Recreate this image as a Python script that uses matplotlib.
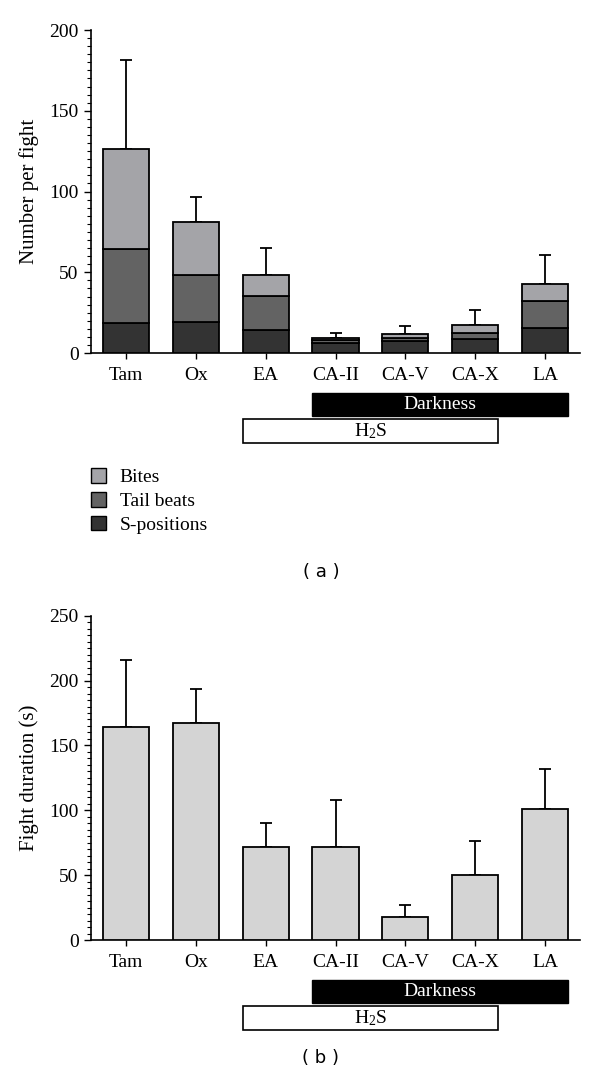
import matplotlib
matplotlib.use("Agg")
import matplotlib.pyplot as plt
from matplotlib.patches import Rectangle, Patch
from matplotlib.ticker import MultipleLocator
import matplotlib.transforms as mtransforms

plt.rcParams['font.family'] = ['Liberation Serif', 'DejaVu Serif']
plt.rcParams['mathtext.fontset'] = 'custom'
plt.rcParams['mathtext.rm'] = 'Liberation Serif'
plt.rcParams['mathtext.it'] = 'Liberation Serif:italic'

groups = ["Tam", "Ox", "EA", "CA-II", "CA-V", "CA-X", "LA"]

# Panel (a): stacked counts per fight
s_positions = [18.5, 19.5, 14.3, 6.0, 7.5, 8.5, 15.4]
tail_beats = [45.7, 28.7, 21.2, 2.0, 2.0, 3.8, 17.0]
bites = [62.3, 33.0, 13.1, 1.5, 2.0, 5.1, 10.2]
a_err = [55.2, 15.4, 16.2, 3.2, 5.0, 9.4, 18.4]

# Panel (b): fight duration
duration = [164, 167.5, 71.7, 71.7, 17.5, 50.4, 101]
b_err = [52, 25.8, 18.5, 36.0, 9.2, 25.9, 31]

# Treatment bars (in group index space)
darkness_span = (2.67, 6.33)
h2s_span = (1.67, 5.33)

c_bites = "#a4a4a8"
c_tail = "#636363"
c_s = "#333333"
c_dur = "#d4d4d4"

fig = plt.figure(figsize=(6, 10.8), dpi=100)
ax1 = fig.add_axes([0.1517, 0.6731, 0.815, 0.2991])
ax2 = fig.add_axes([0.1517, 0.1296, 0.815, 0.3003])

x = list(range(len(groups)))
w = 0.66
lw = 1.3
ekw = dict(elinewidth=1.3, capthick=1.3, ecolor="black")

base2 = [a + b for a, b in zip(s_positions, tail_beats)]
totals = [a + b for a, b in zip(base2, bites)]
ax1.bar(x, s_positions, w, color=c_s, edgecolor="black", linewidth=lw, zorder=3)
ax1.bar(x, tail_beats, w, bottom=s_positions, color=c_tail, edgecolor="black", linewidth=lw, zorder=3)
ax1.bar(x, bites, w, bottom=base2, color=c_bites, edgecolor="black", linewidth=lw, zorder=3)
ax1.errorbar(x, totals, yerr=[[0] * len(x), a_err], fmt="none", capsize=4.6, zorder=2, **ekw)

ax2.bar(x, duration, w, color=c_dur, edgecolor="black", linewidth=lw, zorder=3)
ax2.errorbar(x, duration, yerr=[[0] * len(x), b_err], fmt="none", capsize=4.6, zorder=2, **ekw)

for ax, ymax, ylab in [(ax1, 200, "Number per fight"), (ax2, 250, "Fight duration (s)")]:
    ax.set_xlim(-0.5, 6.5)
    ax.set_ylim(0, ymax)
    ax.spines['top'].set_visible(False)
    ax.spines['right'].set_visible(False)
    ax.spines['left'].set_linewidth(1.2)
    ax.spines['bottom'].set_linewidth(1.2)
    ax.yaxis.set_major_locator(MultipleLocator(50))
    ax.yaxis.set_minor_locator(MultipleLocator(5))
    ax.tick_params(axis='y', which='major', length=5, width=1.0, labelsize=14, pad=4)
    ax.tick_params(axis='y', which='minor', length=3, width=0.8)
    ax.tick_params(axis='x', which='major', length=4, width=1.0, labelsize=14, pad=6)
    ax.set_xticks(x)
    ax.set_xticklabels(groups)
    ax.set_ylabel(ylab, fontsize=15, labelpad=7)

    trans = mtransforms.blended_transform_factory(ax.transData, ax.transAxes)
    hax = ax.get_position().height * 1080  # axes height in px
    d_top = -39.7 / hax
    d_h = 23.3 / hax
    h_top = -66.3 / hax
    h_h = 24.0 / hax
    ax.add_patch(Rectangle((darkness_span[0], d_top - d_h), darkness_span[1] - darkness_span[0], d_h,
                           transform=trans, facecolor="black", edgecolor="black", clip_on=False))
    ax.text((darkness_span[0] + darkness_span[1]) / 2, d_top - d_h / 2, "Darkness",
            transform=trans, color="white", ha="center", va="center", fontsize=14)
    ax.add_patch(Rectangle((h2s_span[0], h_top - h_h), h2s_span[1] - h2s_span[0], h_h,
                           transform=trans, facecolor="white", edgecolor="black", linewidth=1.2, clip_on=False))
    ax.text((h2s_span[0] + h2s_span[1]) / 2, h_top - h_h / 2, r"H$\mathregular{_2}$S",
            transform=trans, color="black", ha="center", va="center", fontsize=14)

handles = [Patch(facecolor=c_bites, edgecolor="black", linewidth=1.0),
           Patch(facecolor=c_tail, edgecolor="black", linewidth=1.0),
           Patch(facecolor=c_s, edgecolor="black", linewidth=1.0)]
fig.legend(handles, ["Bites", "Tail beats", "S-positions"], loc="upper left",
           bbox_to_anchor=(91 / 600, 1 - 468 / 1080), frameon=False, fontsize=14,
           handlelength=0.78, handleheight=0.78, handletextpad=0.7, labelspacing=0.3,
           borderpad=0, borderaxespad=0)

fig.text(0.535, 1 - 572 / 1080, "( a )", family="DejaVu Sans", fontsize=13, ha="center", va="center")
fig.text(0.535, 1 - 1058 / 1080, "( b )", family="DejaVu Sans", fontsize=13, ha="center", va="center")

fig.savefig("out.png", dpi=100)
